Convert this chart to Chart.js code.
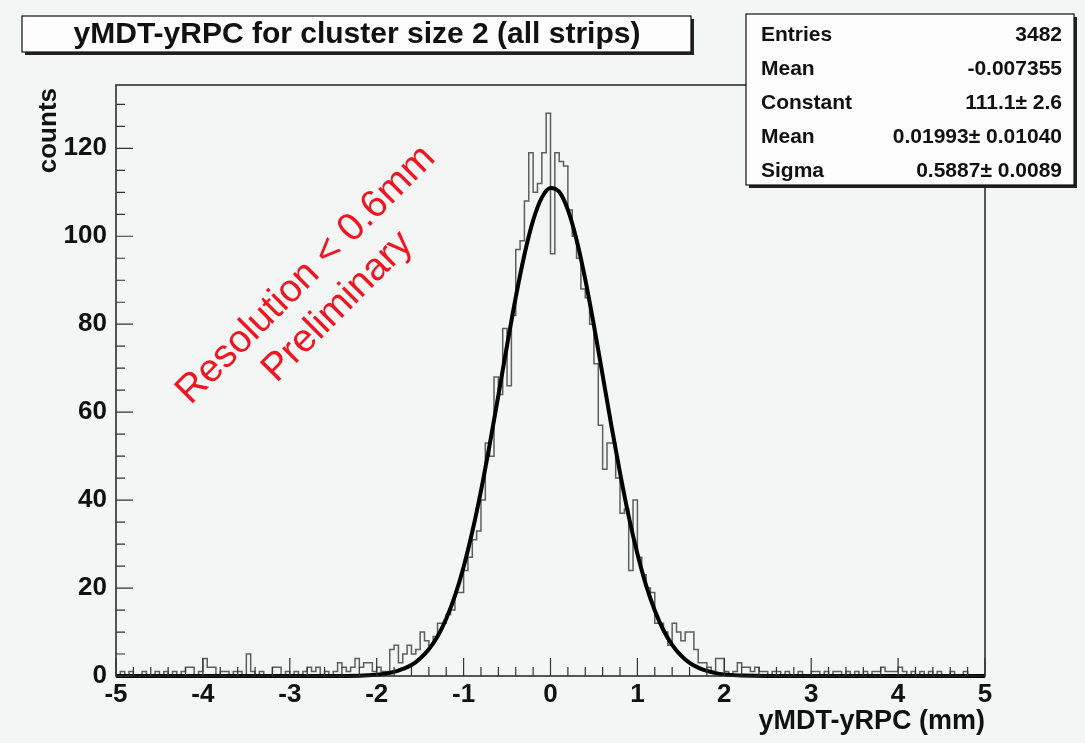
<html>

<head>
    <title>yMDT-yRPC for cluster size 2</title>
    <script src="https://cdn.jsdelivr.net/npm/chart.js"></script>
    <style>
        body { margin: 0; background: #f4f5f5; }
    </style>
</head>

<body>
    <canvas id="resChart" width="1085" height="743"></canvas>

    <script type="text/javascript" charset="utf-8">

        // histogram: 200 bins of 0.05 mm from -5 to 5
        var xMin = -5;
        var xMax = 5;
        var binWidth = 0.05;

        // bins -5.00 .. -2.05 (low edges)
        var leftTail = [0, 1, 0, 1, 0, 0, 1, 0, 0, 1, 0, 1, 0, 1, 0, 1, 2, 2, 0, 1,
            4, 2, 2, 0, 1, 1, 0, 1, 1, 0, 5, 1, 0, 1, 0, 0, 2, 2, 0, 1,
            0, 1, 0, 1, 2, 1, 2, 0, 1, 0, 1, 3, 2, 1, 2, 4, 2, 3, 3, 1];

        // bins -2.00 .. 1.95
        var core = [2, 1, 1, 6, 7, 3, 5, 7, 5, 6, 10, 8, 7, 9, 12, 12, 14, 15, 19, 19,
            24, 27, 31, 33, 40, 53, 50, 68, 64, 79, 66, 82, 97, 99, 108, 119, 110, 112, 119, 128,
            96, 119, 117, 116, 106, 100, 95, 88, 86, 80, 71, 57, 47, 53, 53, 45, 37, 38, 24, 40,
            27, 23, 20, 19, 12, 12, 10, 7, 12, 10, 8, 10, 10, 6, 3, 3, 2, 1, 4, 4];

        // bins 2.00 .. 4.95
        var rightTail = [1, 0, 1, 3, 2, 2, 1, 2, 1, 1, 0, 1, 1, 0, 1, 0, 0, 1, 0, 0,
            1, 1, 0, 1, 0, 1, 1, 0, 1, 0, 1, 0, 1, 0, 1, 1, 2, 1, 1, 1,
            2, 1, 0, 1, 0, 1, 0, 1, 0, 1, 0, 0, 1, 0, 0, 1, 0, 0, 0, 0];

        // gaussian fit curve
        var fitX = [-5, -2.5, -2.2, -2.1, -2.0, -1.9, -1.8, -1.7, -1.6, -1.5, -1.4, -1.3, -1.2, -1.1, -1.0,
            -0.9, -0.8, -0.7, -0.6, -0.5, -0.4, -0.3, -0.2, -0.1, 0.0, 0.1, 0.2, 0.3, 0.4, 0.5,
            0.6, 0.7, 0.8, 0.9, 1.0, 1.1, 1.2, 1.3, 1.4, 1.5, 1.6, 1.7, 1.8, 1.9, 2.0, 2.1, 2.2, 2.5, 5];
        var fitY = [0, 0, 0.07, 0.15, 0.29, 0.53, 0.93, 1.6, 2.5, 4.0, 6.1, 9.0, 13.0, 18.2, 24.8,
            32.8, 42.1, 52.6, 63.8, 75.2, 86.1, 95.8, 103.6, 108.8, 111.0, 110.1, 106.0, 99.2, 90.2, 79.7,
            68.4, 57.0, 46.2, 36.3, 27.8, 20.6, 14.9, 10.4, 7.1, 4.7, 3.0, 1.9, 1.15, 0.66, 0.37, 0.2, 0.1, 0, 0];

        var yMax = 134.4;

        var titleText = 'yMDT-yRPC for cluster size 2 (all strips)';
        var xTitle = 'yMDT-yRPC (mm)';
        var yTitle = 'counts';
        var statsLabels = ['Entries', 'Mean', 'Constant', 'Mean', 'Sigma'];
        var statsValues = ['3482', '-0.007355', '111.1\u00b1 2.6', '0.01993\u00b1 0.01040', '0.5887\u00b1 0.0089'];
        var noteLines = ['Resolution < 0.6mm', 'Preliminary'];

        var FONT = '"Liberation Sans", Arial, sans-serif';

        var counts = leftTail.concat(core, rightTail);
        var histPoints = [];
        for (var i = 0; i < counts.length; i++) {
            histPoints.push({ x: xMin + i * binWidth, y: counts[i] });
        }
        histPoints.push({ x: xMax, y: counts[counts.length - 1] });

        var fitPoints = fitX.map(function (x, k) { return { x: x, y: fitY[k] }; });

        function shadowBox(ctx, x, y, w, h) {
            ctx.fillStyle = '#222';
            ctx.fillRect(x + 3, y + 3, w, h);
            ctx.fillStyle = '#fdfdfd';
            ctx.fillRect(x, y, w, h);
            ctx.strokeStyle = '#111';
            ctx.lineWidth = 1.2;
            ctx.strokeRect(x, y, w, h);
        }

        var rootStyle = {
            id: 'rootStyle',
            beforeDraw: function (chart) {
                var ctx = chart.ctx;
                ctx.save();
                ctx.fillStyle = '#f4f5f5';
                ctx.fillRect(0, 0, chart.width, chart.height);
                ctx.restore();
            },
            afterDatasetsDraw: function (chart) {
                var ctx = chart.ctx;
                var a = chart.chartArea;
                var xs = chart.scales.x;
                var ys = chart.scales.y;
                ctx.save();
                // frame
                ctx.strokeStyle = '#222';
                ctx.lineWidth = 1.5;
                ctx.strokeRect(a.left, a.top, a.right - a.left, a.bottom - a.top);
                // inward ticks
                ctx.lineWidth = 1.2;
                ctx.strokeStyle = '#333';
                ctx.beginPath();
                for (var v = 0; v <= 130; v += 5) {
                    var py = ys.getPixelForValue(v);
                    var len = (v % 20 === 0) ? 17 : 9;
                    ctx.moveTo(a.left, py);
                    ctx.lineTo(a.left + len, py);
                }
                for (var k = 0; k <= 50; k++) {
                    var xv = xMin + k * 0.2;
                    var px = xs.getPixelForValue(xv);
                    var l2 = (k % 5 === 0) ? 18 : 9;
                    ctx.moveTo(px, a.bottom);
                    ctx.lineTo(px, a.bottom - l2);
                }
                ctx.stroke();

                // axis titles
                ctx.fillStyle = '#111';
                ctx.font = 'bold 27px ' + FONT;
                ctx.textAlign = 'right';
                ctx.textBaseline = 'alphabetic';
                ctx.fillText(xTitle, a.right, 729);
                ctx.save();
                ctx.translate(56, a.top + 3);
                ctx.rotate(-Math.PI / 2);
                ctx.font = 'bold 26px ' + FONT;
                ctx.textAlign = 'right';
                ctx.fillText(yTitle, 0, 0);
                ctx.restore();

                // red note
                ctx.save();
                ctx.fillStyle = '#ee1620';
                ctx.font = '39px ' + FONT;
                ctx.textAlign = 'center';
                ctx.textBaseline = 'middle';
                ctx.translate(306, 275);
                ctx.rotate(-Math.PI / 4);
                ctx.fillText(noteLines[0], 0, 0);
                ctx.fillText(noteLines[1], 0, 45);
                ctx.restore();

                // title box
                shadowBox(ctx, 22, 16, 669, 36);
                ctx.fillStyle = '#111';
                ctx.font = 'bold 30px ' + FONT;
                ctx.textAlign = 'center';
                ctx.textBaseline = 'middle';
                ctx.fillText(titleText, 357, 35);

                // stats box
                shadowBox(ctx, 746, 14, 328, 171);
                ctx.fillStyle = '#111';
                ctx.font = 'bold 21px ' + FONT;
                ctx.textBaseline = 'alphabetic';
                for (var r = 0; r < statsLabels.length; r++) {
                    var by = 41 + r * 34;
                    ctx.textAlign = 'left';
                    ctx.fillText(statsLabels[r], 761, by);
                    ctx.textAlign = 'right';
                    ctx.fillText(statsValues[r], 1062, by);
                }
                ctx.restore();
            }
        };

        var tickFont = { family: FONT, size: 26, weight: 'bold' };

        var chart = new Chart(document.getElementById('resChart'), {
            type: 'line',
            data: {
                datasets: [
                    {
                        label: 'gaus fit',
                        data: fitPoints,
                        borderColor: '#000000',
                        borderWidth: 4,
                        pointRadius: 0,
                        cubicInterpolationMode: 'monotone',
                        clip: { left: 0, top: 0, right: 0, bottom: 3 },
                        order: 0
                    },
                    {
                        label: 'yMDT-yRPC',
                        data: histPoints,
                        borderColor: '#5e5e5e',
                        borderWidth: 1.5,
                        pointRadius: 0,
                        stepped: 'before',
                        order: 1
                    }
                ]
            },
            options: {
                responsive: false,
                animation: false,
                layout: { padding: { top: 85, right: 100, left: 0, bottom: 0 } },
                scales: {
                    x: {
                        type: 'linear',
                        min: xMin,
                        max: xMax,
                        afterFit: function (s) { s.height = 67; },
                        grid: { display: false, drawTicks: false },
                        border: { display: false },
                        ticks: {
                            stepSize: 1,
                            autoSkip: false,
                            maxRotation: 0,
                            includeBounds: false,
                            padding: 3,
                            color: '#111',
                            font: tickFont
                        }
                    },
                    y: {
                        min: 0,
                        max: yMax,
                        afterFit: function (s) { s.width = 116; },
                        grid: { display: false, drawTicks: false },
                        border: { display: false },
                        ticks: {
                            stepSize: 20,
                            includeBounds: false,
                            padding: 9,
                            color: '#111',
                            font: tickFont
                        }
                    }
                },
                plugins: {
                    legend: { display: false },
                    tooltip: { enabled: false }
                }
            },
            plugins: [rootStyle]
        });

    </script>
</body>

</html>
